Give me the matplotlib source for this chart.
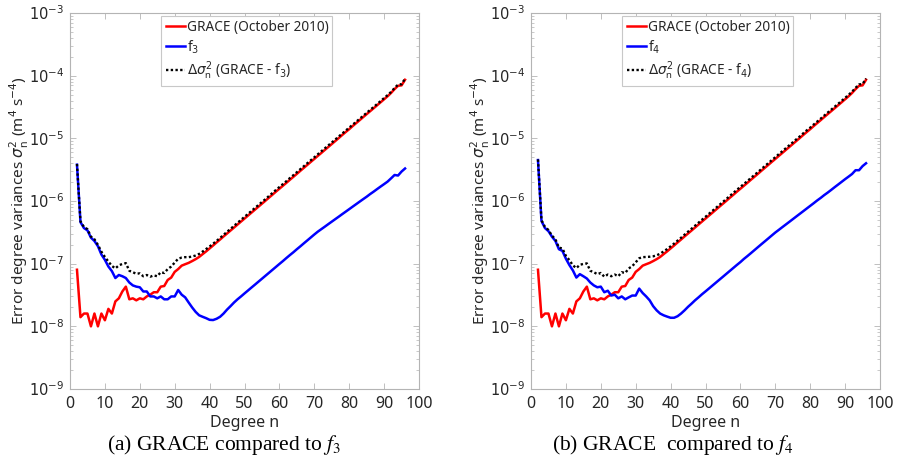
import matplotlib
matplotlib.use("Agg")
import matplotlib.pyplot as plt
from matplotlib.ticker import LogLocator, NullFormatter

plt.rcParams['font.family'] = ['Noto Sans', 'DejaVu Sans']
plt.rcParams['mathtext.fontset'] = 'dejavusans'

# spherical harmonic degree n = 2 .. 96
degree = list(range(2, 97))

# GRACE (October 2010) error degree variances, same in both panels
grace = [
    8.0e-8, 1.4e-8, 1.6e-8, 1.6e-8, 1.0e-8, 1.6e-8, 1.0e-8, 1.6e-8, 1.25e-8, 1.9e-8,
    1.6e-8, 2.5e-8, 2.8e-8, 3.6e-8, 4.3e-8, 2.7e-8, 2.8e-8, 2.6e-8, 2.8e-8, 2.7e-8,
    3.0e-8, 3.2e-8, 3.5e-8, 3.5e-8, 4.3e-8, 4.4e-8, 5.5e-8, 6.0e-8, 7.4e-8, 8.2e-8,
    9.3e-8, 9.8e-8, 1.03e-7, 1.1e-7, 1.18e-7, 1.28e-7, 1.42e-7, 1.57e-7, 1.75e-7, 1.95e-7,
    2.18e-7, 2.43e-7, 2.72e-7, 3.03e-7, 3.38e-7, 3.77e-7, 4.21e-7, 4.70e-7, 5.24e-7, 5.85e-7,
    6.52e-7, 7.28e-7, 8.12e-7, 9.06e-7, 1.01e-6, 1.13e-6, 1.26e-6, 1.41e-6, 1.57e-6, 1.75e-6,
    1.95e-6, 2.18e-6, 2.43e-6, 2.71e-6, 3.03e-6, 3.38e-6, 3.77e-6, 4.21e-6, 4.69e-6, 5.24e-6,
    5.84e-6, 6.52e-6, 7.27e-6, 8.11e-6, 9.05e-6, 1.01e-5, 1.13e-5, 1.26e-5, 1.40e-5, 1.57e-5,
    1.75e-5, 1.95e-5, 2.18e-5, 2.43e-5, 2.71e-5, 3.02e-5, 3.37e-5, 3.76e-5, 4.20e-5, 4.69e-5,
    5.3e-5, 6.1e-5, 6.9e-5, 7.0e-5, 8.6e-5,
]

f3 = [
    3.8e-6, 4.6e-7, 3.7e-7, 3.4e-7, 2.6e-7, 2.3e-7, 1.9e-7, 1.4e-7, 1.15e-7, 9.0e-8,
    7.6e-8, 5.9e-8, 6.6e-8, 6.3e-8, 5.9e-8, 5.0e-8, 4.5e-8, 4.3e-8, 4.2e-8, 3.6e-8,
    3.6e-8, 3.0e-8, 3.0e-8, 2.8e-8, 3.0e-8, 2.7e-8, 2.7e-8, 3.0e-8, 3.0e-8, 3.8e-8,
    3.2e-8, 2.9e-8, 2.4e-8, 2.0e-8, 1.7e-8, 1.5e-8, 1.42e-8, 1.35e-8, 1.27e-8, 1.26e-8,
    1.32e-8, 1.42e-8, 1.6e-8, 1.85e-8, 2.1e-8, 2.4e-8, 2.7e-8, 3.0e-8, 3.35e-8, 3.73e-8,
    4.16e-8, 4.63e-8, 5.16e-8, 5.75e-8, 6.41e-8, 7.14e-8, 7.96e-8, 8.87e-8, 9.89e-8, 1.10e-7,
    1.23e-7, 1.37e-7, 1.52e-7, 1.70e-7, 1.89e-7, 2.11e-7, 2.35e-7, 2.62e-7, 2.92e-7, 3.24e-7,
    3.55e-7, 3.89e-7, 4.27e-7, 4.68e-7, 5.13e-7, 5.62e-7, 6.17e-7, 6.76e-7, 7.41e-7, 8.13e-7,
    8.91e-7, 9.77e-7, 1.07e-6, 1.17e-6, 1.29e-6, 1.41e-6, 1.55e-6, 1.70e-6, 1.86e-6, 2.04e-6,
    2.3e-6, 2.6e-6, 2.55e-6, 2.95e-6, 3.3e-6,
]

delta_f3 = [
    3.9e-6, 4.75e-7, 3.85e-7, 3.55e-7, 2.7e-7, 2.45e-7, 2.0e-7, 1.55e-7, 1.28e-7, 1.08e-7,
    9.2e-8, 8.4e-8, 9.4e-8, 9.9e-8, 1.02e-7, 7.7e-8, 7.3e-8, 6.9e-8, 7.0e-8, 6.3e-8,
    6.6e-8, 6.2e-8, 6.5e-8, 6.3e-8, 7.3e-8, 7.1e-8, 8.2e-8, 9.0e-8, 1.04e-7, 1.2e-7,
    1.25e-7, 1.27e-7, 1.27e-7, 1.3e-7, 1.35e-7, 1.43e-7, 1.56e-7, 1.71e-7, 1.88e-7, 2.08e-7,
    2.31e-7, 2.57e-7, 2.88e-7, 3.22e-7, 3.59e-7, 4.01e-7, 4.48e-7, 5.0e-7, 5.58e-7, 6.22e-7,
    6.94e-7, 7.75e-7, 8.64e-7, 9.64e-7, 1.07e-6, 1.20e-6, 1.34e-6, 1.50e-6, 1.67e-6, 1.86e-6,
    2.07e-6, 2.32e-6, 2.58e-6, 2.88e-6, 3.22e-6, 3.59e-6, 4.01e-6, 4.47e-6, 4.98e-6, 5.56e-6,
    6.2e-6, 6.91e-6, 7.70e-6, 8.58e-6, 9.56e-6, 1.07e-5, 1.19e-5, 1.33e-5, 1.48e-5, 1.65e-5,
    1.84e-5, 2.05e-5, 2.29e-5, 2.55e-5, 2.84e-5, 3.16e-5, 3.52e-5, 3.93e-5, 4.39e-5, 4.89e-5,
    5.5e-5, 6.35e-5, 7.2e-5, 7.3e-5, 8.95e-5,
]

f4 = [
    4.5e-6, 4.8e-7, 3.7e-7, 3.3e-7, 2.7e-7, 2.3e-7, 1.7e-7, 1.6e-7, 1.2e-7, 9.5e-8,
    7.8e-8, 6.0e-8, 6.8e-8, 6.3e-8, 5.8e-8, 5.0e-8, 4.5e-8, 4.2e-8, 4.3e-8, 3.5e-8,
    3.7e-8, 3.1e-8, 3.2e-8, 2.8e-8, 3.0e-8, 2.7e-8, 2.9e-8, 3.1e-8, 3.1e-8, 4.0e-8,
    3.4e-8, 3.0e-8, 2.6e-8, 2.1e-8, 1.8e-8, 1.6e-8, 1.5e-8, 1.43e-8, 1.37e-8, 1.37e-8,
    1.45e-8, 1.6e-8, 1.8e-8, 2.05e-8, 2.3e-8, 2.6e-8, 2.9e-8, 3.25e-8, 3.61e-8, 4.02e-8,
    4.48e-8, 4.99e-8, 5.56e-8, 6.19e-8, 6.90e-8, 7.69e-8, 8.57e-8, 9.55e-8, 1.06e-7, 1.19e-7,
    1.32e-7, 1.47e-7, 1.64e-7, 1.83e-7, 2.04e-7, 2.27e-7, 2.53e-7, 2.82e-7, 3.14e-7, 3.46e-7,
    3.82e-7, 4.21e-7, 4.64e-7, 5.12e-7, 5.65e-7, 6.23e-7, 6.87e-7, 7.58e-7, 8.36e-7, 9.22e-7,
    1.02e-6, 1.12e-6, 1.24e-6, 1.36e-6, 1.50e-6, 1.66e-6, 1.83e-6, 2.02e-6, 2.23e-6, 2.45e-6,
    2.7e-6, 3.1e-6, 3.1e-6, 3.6e-6, 4.0e-6,
]

delta_f4 = [
    4.6e-6, 4.95e-7, 3.85e-7, 3.45e-7, 2.8e-7, 2.45e-7, 1.8e-7, 1.75e-7, 1.33e-7, 1.14e-7,
    9.4e-8, 8.5e-8, 9.6e-8, 9.9e-8, 1.01e-7, 7.7e-8, 7.3e-8, 6.8e-8, 7.1e-8, 6.2e-8,
    6.7e-8, 6.3e-8, 6.7e-8, 6.3e-8, 7.3e-8, 7.1e-8, 8.4e-8, 9.1e-8, 1.05e-7, 1.22e-7,
    1.27e-7, 1.28e-7, 1.29e-7, 1.31e-7, 1.36e-7, 1.44e-7, 1.57e-7, 1.71e-7, 1.89e-7, 2.09e-7,
    2.33e-7, 2.59e-7, 2.90e-7, 3.24e-7, 3.61e-7, 4.03e-7, 4.50e-7, 5.03e-7, 5.60e-7, 6.25e-7,
    6.97e-7, 7.78e-7, 8.68e-7, 9.68e-7, 1.08e-6, 1.21e-6, 1.35e-6, 1.51e-6, 1.68e-6, 1.87e-6,
    2.08e-6, 2.33e-6, 2.59e-6, 2.89e-6, 3.23e-6, 3.61e-6, 4.02e-6, 4.49e-6, 5.00e-6, 5.59e-6,
    6.22e-6, 6.94e-6, 7.73e-6, 8.62e-6, 9.62e-6, 1.07e-5, 1.20e-5, 1.34e-5, 1.48e-5, 1.66e-5,
    1.85e-5, 2.06e-5, 2.30e-5, 2.57e-5, 2.86e-5, 3.19e-5, 3.55e-5, 3.96e-5, 4.42e-5, 4.94e-5,
    5.55e-5, 6.4e-5, 7.25e-5, 7.35e-5, 9.0e-5,
]

x_ticks = list(range(0, 101, 10))
y_ticks = [1e-9, 1e-8, 1e-7, 1e-6, 1e-5, 1e-4, 1e-3]
y_ticklabels = [r'$10^{-9}$', r'$10^{-8}$', r'$10^{-7}$', r'$10^{-6}$',
                r'$10^{-5}$', r'$10^{-4}$', r'$10^{-3}$']

panels = [
    (f3, delta_f3, '3', r'(a) GRACE compared to $\mathit{f}_3$'),
    (f4, delta_f4, '4', r'(b) GRACE  compared to $\mathit{f}_4$'),
]

fig = plt.figure(figsize=(8.99, 4.75), dpi=100)
axes_lefts = [70 / 899, 531 / 899]
caption_x = [224 / 899, 673 / 899]

text_col = '#262626'
spine_col = '#b4b4b4'

for i, (fk, dk, k, caption) in enumerate(panels):
    ax = fig.add_axes([axes_lefts[i], 86 / 475, 349 / 899, 376 / 475])

    ax.plot(degree, grace, color='#ff0000', lw=1.8, label='GRACE (October 2010)')
    ax.plot(degree, fk, color='#0000ff', lw=1.8, label=r'f$_{%s}$' % k)
    ax.plot(degree, dk, color='black', lw=1.7, ls=(0, (1, 1)),
            label=r'$\Delta\sigma_\mathregular{n}^2$ (GRACE - f$_{%s}$)' % k)

    ax.set_yscale('log')
    ax.set_xlim(0, 100)
    ax.set_ylim(1e-9, 1e-3)
    ax.set_xticks(x_ticks)
    ax.set_yticks(y_ticks)
    ax.set_yticklabels(y_ticklabels)
    ax.yaxis.set_minor_locator(LogLocator(base=10, subs=range(2, 10), numticks=20))
    ax.yaxis.set_minor_formatter(NullFormatter())

    ax.tick_params(which='both', direction='in', top=True, right=True,
                   colors=spine_col, labelcolor=text_col)
    ax.tick_params(axis='x', labelsize=11.5, pad=5)
    ax.tick_params(axis='y', labelsize=10.5, pad=4)
    ax.tick_params(which='major', length=4, width=0.6)
    ax.tick_params(which='minor', length=2, width=0.5)
    for s in ax.spines.values():
        s.set_color(spine_col)
        s.set_linewidth(0.8)

    ax.set_xlabel('Degree n', fontsize=11.5, color=text_col, labelpad=2)
    ax.set_ylabel(r'Error degree variances $\sigma_\mathregular{n}^2$ (m$^4$ s$^{-4}$)',
                  fontsize=11, color=text_col)
    ax.yaxis.set_label_coords(-0.112, 0.5)

    leg = ax.legend(loc='upper left', bbox_to_anchor=(0.262, 0.993), fontsize=9.8,
                    handlelength=1.4, handletextpad=0.15, borderpad=0.3,
                    borderaxespad=0.0, labelspacing=0.25, fancybox=False, framealpha=1)
    leg.get_frame().set_edgecolor('#c8c8c8')
    leg.get_frame().set_linewidth(0.8)
    for t in leg.get_texts():
        t.set_color(text_col)

    fig.text(caption_x[i], 30 / 475, caption, ha='center', va='center',
             fontsize=15.5, family='Liberation Serif', math_fontfamily='stix',
             color='black')

fig.savefig('out.png', dpi=100)
